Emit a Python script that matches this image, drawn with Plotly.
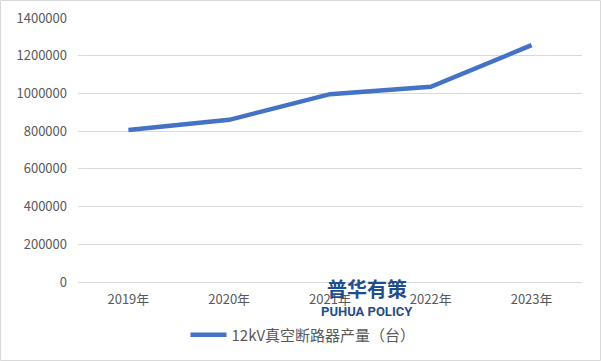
import plotly.graph_objects as go

years = ["2019年", "2020年", "2021年", "2022年", "2023年"]
output = [806000, 860000, 996000, 1035000, 1256000]
series_name = "12kV真空断路器产量（台）"
y_ticks = [0, 200000, 400000, 600000, 800000, 1000000, 1200000, 1400000]

W, H = 601, 361
L, R, T, B = 78, 19, 18, 79
pw, ph = W - L - R, H - T - B

font_family = "Noto Sans CJK SC, Noto Sans, sans-serif"

fig = go.Figure()
fig.add_trace(go.Scatter(
    x=years, y=output, mode="lines", name=series_name,
    line=dict(color="#4472C4", width=4.5),
))

fig.update_layout(
    width=W, height=H,
    margin=dict(l=L, r=R, t=T, b=B, autoexpand=False),
    paper_bgcolor="white", plot_bgcolor="white",
    font=dict(family=font_family, size=12, color="#595959"),
    showlegend=True,
    legend=dict(orientation="h", x=(303 - L) / pw, xanchor="center",
                y=(T + ph - 335) / ph, yanchor="middle",
                font=dict(size=15, color="#595959"), itemwidth=36),
    xaxis=dict(range=[-0.5, 4.5], showgrid=False, showline=False, zeroline=False,
               ticks="", ticklabelstandoff=8,
               tickfont=dict(size=13, color="#595959")),
    yaxis=dict(range=[0, 1400000], tickvals=y_ticks,
               ticktext=[str(v) for v in y_ticks],
               showgrid=True, gridcolor="#D9D9D9", gridwidth=1,
               zeroline=True, zerolinecolor="#D9D9D9", zerolinewidth=1,
               showline=False, ticks="", ticklabelstandoff=10,
               tickfont=dict(size=13, color="#595959")),
)

# outer border
fig.add_shape(type="rect", xref="paper", yref="paper",
              x0=(-L + 0.5) / pw, x1=(W - L - 0.5) / pw,
              y0=(-B + 0.5) / ph, y1=(H - B - 0.5) / ph,
              line=dict(color="#D9D9D9", width=1), fillcolor="rgba(0,0,0,0)",
              layer="below")

# watermark
fig.add_annotation(text="<b>普华有策</b>", xref="paper", yref="paper",
                   x=(367 - L) / pw, y=(T + ph - 288) / ph, yanchor="top",
                   yshift=16, showarrow=False,
                   font=dict(family=font_family, size=20, color="#1F4E8C"))
fig.add_annotation(text="<b>PUHUA POLICY</b>", xref="paper", yref="paper",
                   x=(367 - L) / pw, y=(T + ph - 311) / ph, yanchor="middle",
                   showarrow=False,
                   font=dict(family="Roboto, sans-serif", size=13, color="#1F4E8C"))

fig.write_html("out.html",
               config={"displayModeBar": False},
               post_script="document.body.style.margin='0';document.body.style.overflow='hidden';")
